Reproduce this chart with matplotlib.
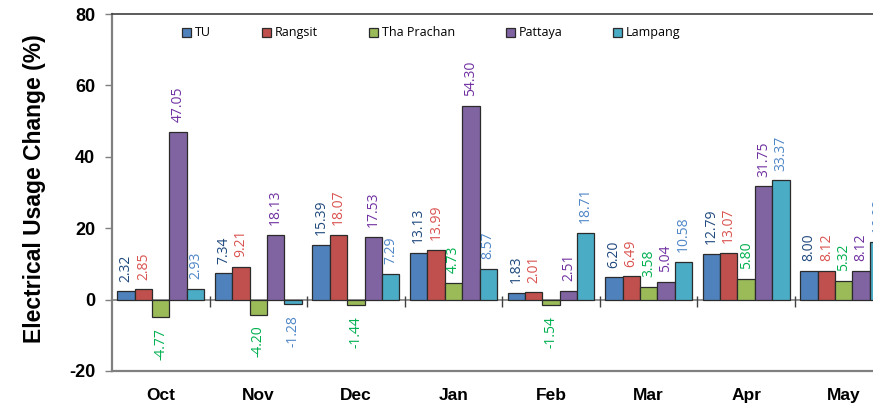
import numpy as np
import matplotlib
matplotlib.use("Agg")
from matplotlib import pyplot as plt

months = ["Oct", "Nov", "Dec", "Jan", "Feb", "Mar", "Apr", "May"]
series_names = ["TU", "Rangsit", "Tha Prachan", "Pattaya", "Lampang"]
tu = [2.32, 7.34, 15.39, 13.13, 1.83, 6.20, 12.79, 8.00]
rangsit = [2.85, 9.21, 18.07, 13.99, 2.01, 6.49, 13.07, 8.12]
tha_prachan = [-4.77, -4.20, -1.44, 4.73, -1.54, 3.58, 5.80, 5.32]
pattaya = [47.05, 18.13, 17.53, 54.30, 2.51, 5.04, 31.75, 8.12]
lampang = [2.93, -1.28, 7.29, 8.57, 18.71, 10.58, 33.37, 16.02]

bar_colors = ["#4F81BD", "#C0504D", "#9BBB59", "#8064A2", "#4BACC6"]
label_colors = ["#1F497D", "#D9534F", "#00B050", "#7030A0", "#4F86C6"]

values = [tu, rangsit, tha_prachan, pattaya, lampang]

plt.rcParams["axes.unicode_minus"] = False

fig = plt.figure(figsize=(8.73, 4.07), dpi=100)
# axes runs past the right edge of the figure, as in the reference
ax = fig.add_axes([0.1283, 0.0885, 0.894, 0.877])

x = np.arange(len(months))
width = 0.178
for i, (name, vals) in enumerate(zip(series_names, values)):
    pos = x + (i - 2) * width
    ax.bar(pos, vals, width, color=bar_colors[i], edgecolor="#2b2b2b",
           linewidth=0.9, label=name, zorder=3)
    for px, v in zip(pos, vals):
        ax.annotate(f"{v:.2f}", (px, v), xytext=(0, 7 if v >= 0 else -8),
                    textcoords="offset points", rotation=90,
                    ha="center", va="bottom" if v >= 0 else "top",
                    fontsize=10, family="Open Sans", color=label_colors[i],
                    annotation_clip=False)

ax.set_xlim(-0.5, len(months) - 0.5)
ax.set_ylim(-20, 80)
ax.set_yticks(np.arange(-20, 81, 20))
ax.tick_params(axis="y", direction="out", length=5, width=1, color="#808080",
               labelsize=13, pad=7)
for lab in ax.get_yticklabels():
    lab.set_fontweight("bold")
    lab.set_family("Liberation Sans")

ax.set_xticks(x)
ax.set_xticklabels(months, fontsize=12.5, fontweight="bold",
                   family="Liberation Sans")
ax.tick_params(axis="x", length=0, pad=12)

# zero line and group separators
ax.axhline(0, color="#808080", linewidth=1.2, zorder=2)
ax.vlines(x[:-1] + 0.5, -2, 1, color="#404040", linewidth=1, zorder=2)

for side in ["left", "bottom"]:
    ax.spines[side].set_color("#808080")
    ax.spines[side].set_linewidth(1.6)
ax.spines["top"].set_color("#404040")
ax.spines["top"].set_linewidth(1.2)
ax.spines["right"].set_visible(False)

ax.set_ylabel("Electrical Usage Change (%)", fontsize=16.5, fontweight="bold",
              family="Liberation Sans")
ax.yaxis.set_label_coords(-0.084, 0.511)

leg = ax.legend(loc="center left", bbox_to_anchor=(0.2085, 0.919),
                bbox_transform=fig.transFigure, ncol=5, frameon=False,
                prop={"family": "Open Sans", "size": 9},
                handlelength=0.75, handleheight=0.75, handletextpad=0.3,
                columnspacing=4.05, borderaxespad=0, borderpad=0)
for h in leg.legend_handles:
    h.set_edgecolor("#2b2b2b")
    h.set_linewidth(0.9)

fig.savefig("out.png", dpi=100)
